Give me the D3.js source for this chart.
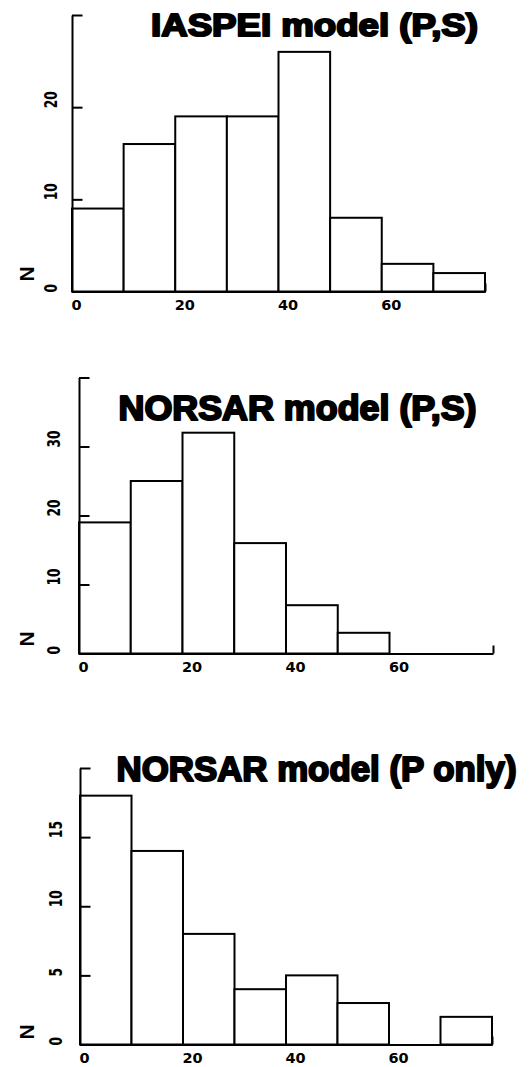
<!DOCTYPE html>
<html>
<head>
<meta charset="utf-8">
<script src="https://cdn.jsdelivr.net/npm/d3@7"></script>
<style>
  html, body { margin: 0; padding: 0; background: #fff; }
  svg { display: block; }
</style>
</head>
<body>
<svg id="chart" width="530" height="1067"></svg>
<script>
// ---- data ----
const binEdges = [0, 10, 20, 30, 40, 50, 60, 70, 80];
const xTickLabels = [0, 20, 40, 60];

const iaspeiCounts = [9, 16, 19, 19, 26, 8, 3, 2];
const norsarPSCounts = [19, 25, 32, 16, 7, 3, 0, 0];
const norsarPCounts = [18, 14, 8, 4, 5, 3, 0, 2];

const iaspeiYTicks = [0, 10, 20, 30];
const iaspeiYLabels = [0, 10, 20];
const norsarPSYTicks = [0, 10, 20, 30, 40];
const norsarPSYLabels = [0, 10, 20, 30];
const norsarPYTicks = [0, 5, 10, 15, 20];
const norsarPYLabels = [0, 5, 10, 15];

const titles = ["IASPEI model (P,S)", "NORSAR model (P,S)", "NORSAR model (P only)"];
const yLabel = "N";

// ---- layout ----
const panels = [
  { counts: iaspeiCounts, yTicks: iaspeiYTicks, yLabels: iaspeiYLabels, yMax: 30,
    x0: 72, x1: 485, yb: 291.5, yt: 15, title: titles[0],
    tx: 151, tw: 327, ty: 36, tfs: 32, labX: 57, nY: 274, xLabY: 310 },
  { counts: norsarPSCounts, yTicks: norsarPSYTicks, yLabels: norsarPSYLabels, yMax: 40,
    x0: 79, x1: 493, yb: 653.5, yt: 377.5, title: titles[1],
    tx: 118.5, tw: 358, ty: 419.5, tfs: 34.5, labX: 60, nY: 639, xLabY: 672 },
  { counts: norsarPCounts, yTicks: norsarPYTicks, yLabels: norsarPYLabels, yMax: 20,
    x0: 80, x1: 492, yb: 1044.5, yt: 768, title: titles[2],
    tx: 116.5, tw: 400, ty: 781, tfs: 35, labX: 61.5, nY: 1032, xLabY: 1063 }
];

const svg = d3.select("#chart");

panels.forEach(p => {
  const x = d3.scaleLinear().domain([binEdges[0], binEdges[binEdges.length - 1]]).range([p.x0, p.x1]);
  const y = d3.scaleLinear().domain([0, p.yMax]).range([p.yb, p.yt]);
  const g = svg.append("g");

  // bars
  const bins = p.counts.map((c, i) => ({ lo: binEdges[i], hi: binEdges[i + 1], c }));
  g.selectAll("rect.bar").data(bins.filter(d => d.c > 0)).join("rect")
    .attr("class", "bar")
    .attr("x", d => x(d.lo))
    .attr("width", d => x(d.hi) - x(d.lo))
    .attr("y", d => y(d.c))
    .attr("height", d => y(0) - y(d.c))
    .attr("fill", "#fff")
    .attr("stroke", "#000")
    .attr("stroke-width", 2);

  // y axis (ticks pointing inward)
  const yAxis = d3.axisLeft(y).tickValues(p.yTicks).tickSize(-10.5).tickSizeOuter(0).tickFormat("");
  const ya = g.append("g").attr("transform", `translate(${p.x0},0)`).call(yAxis);
  ya.selectAll("path, line").attr("stroke", "#000").attr("stroke-width", 2);

  // x axis line with end tick
  const xAxis = d3.axisBottom(x).tickValues([binEdges[binEdges.length - 1]]).tickSize(-8).tickSizeOuter(0).tickFormat("");
  const xa = g.append("g").attr("transform", `translate(0,${p.yb})`).call(xAxis);
  xa.selectAll("path, line").attr("stroke", "#000").attr("stroke-width", 2);

  // y tick labels (rotated, condensed)
  g.selectAll("text.ylab").data(p.yLabels).join("text")
    .attr("class", "ylab")
    .attr("transform", d => `translate(${p.labX},${y(d) + 1}) rotate(-90) scale(0.72,1)`)
    .attr("text-anchor", "start")
    .attr("font-family", "'DejaVu Sans', sans-serif")
    .attr("font-weight", "bold")
    .attr("font-size", 17)
    .attr("fill", "#000")
    .text(d => d);

  // x tick labels
  g.selectAll("text.xlab").data(xTickLabels).join("text")
    .attr("class", "xlab")
    .attr("x", d => x(d) - 0.5)
    .attr("y", p.xLabY)
    .attr("text-anchor", "start")
    .attr("font-family", "'DejaVu Sans', sans-serif")
    .attr("font-weight", "bold")
    .attr("font-size", 14.5)
    .attr("fill", "#000")
    .text(d => d);

  // N label
  g.append("text")
    .attr("transform", `translate(33.5,${p.nY}) rotate(-90)`)
    .attr("text-anchor", "middle")
    .attr("font-family", "'Liberation Sans', Arial, sans-serif")
    .attr("font-weight", "bold")
    .attr("font-size", 21)
    .attr("fill", "#000")
    .text(yLabel);

  // title
  g.append("text")
    .attr("x", p.tx)
    .attr("y", p.ty)
    .attr("textLength", p.tw)
    .attr("lengthAdjust", "spacingAndGlyphs")
    .attr("font-family", "'Liberation Sans', Arial, sans-serif")
    .attr("font-weight", "900")
    .attr("font-size", p.tfs)
    .attr("fill", "#000")
    .attr("stroke", "#000")
    .attr("stroke-width", 2.1)
    .attr("stroke-linejoin", "round")
    .text(p.title);
});
</script>
</body>
</html>
